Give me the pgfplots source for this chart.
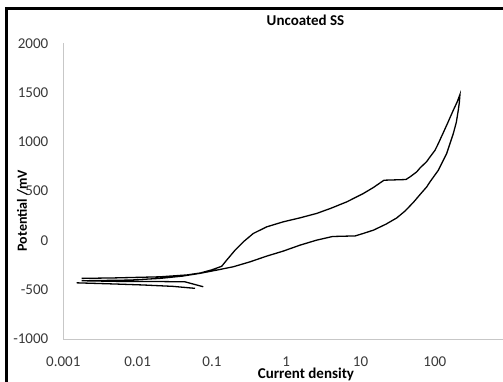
\documentclass[border=0pt]{standalone}
\usepackage{fontspec}
\setmainfont{Carlito}
\usepackage{pgfplots}
\pgfplotsset{compat=1.18}
\begin{document}
\fontsize{15pt}{18pt}\selectfont
\begin{tikzpicture}
\path[use as bounding box] (0,0) rectangle (503pt,-381pt);
\begin{scope}
\clip (0,0) rectangle (503pt,-381pt);
\begin{axis}[
  at={(63.3pt,-339pt)}, anchor=south west,
  scale only axis, width=445.8pt, height=295.7pt,
  xmode=log, log basis x=10,
  xmin=0.001, xmax=1000, ymin=-1000, ymax=2000,
  axis lines*=left,
  axis line style={draw=black!22, line width=0.9pt},
  tick style={draw=none},
  major tick length=0pt, minor tick length=0pt,
  xtick={0.001,0.01,0.1,1,10,100},
  xticklabels={0.001,0.01,0.1,1,10,100},
  ytick={-1000,-500,0,500,1000,1500,2000},
  yticklabels={-1000,-500,0,500,1000,1500,2000},
  ticklabel style={font=\fontsize{15pt}{18pt}\selectfont, text=black!78, inner sep=0pt},
  xticklabel style={anchor=center, yshift=-22.7pt},
  yticklabel style={anchor=east, xshift=-14.8pt},
]
% cathodic branch (lower line)
\addplot[black, line width=1.3pt] coordinates {
(0.0593,-486) (0.03,-466) (0.012,-452) (0.005,-442) (0.0025,-435) (0.00151,-430)
};
% forward anodic + reverse
\addplot[black, line width=1.3pt] coordinates {
(0.00177,-385) (0.005,-380) (0.02,-369) (0.046,-350) (0.07,-330) (0.1,-298)
(0.1355,-262) (0.158,-200) (0.205,-99) (0.265,-14) (0.361,71) (0.547,138)
(0.914,189) (1.53,229) (2.57,274) (3.92,324) (6.52,391) (10.9,476) (14.9,537)
(20.7,611) (40.9,618) (46.4,645) (57,695) (63.2,735) (77.8,800) (86.1,847)
(100.7,915) (111.5,983) (144.5,1169) (177.4,1321) (200,1405) (218,1480)
(214,1400) (207,1321) (195,1200) (177.4,1084) (144.5,882) (111.5,712) (86.1,594) (77.8,543)
(64,470) (52,390) (40,300) (30.7,228) (22,165) (15,105) (10.9,71) (8.5,46) (4.2,40) (2.57,3)
(1.53,-48) (0.914,-108) (0.547,-159) (0.326,-217) (0.194,-267) (0.116,-301)
(0.069,-334) (0.04,-362) (0.02,-385) (0.008,-402) (0.00177,-409)
(0.005,-415) (0.02,-417) (0.0435,-420) (0.0766,-470)
};
\end{axis}
\end{scope}
\draw[line width=3pt] (6.5pt,-400pt) -- (6.5pt,-8.5pt) -- (560pt,-8.5pt);
\node[anchor=base, inner sep=0pt, font=\bfseries] at (305.5pt,-25.5pt) {Uncoated SS};
\node[anchor=base, inner sep=0pt, font=\bfseries] at (306pt,-378.5pt) {Current density};
\node[anchor=base, inner sep=0pt, rotate=90, font=\bfseries\fontsize{14pt}{16pt}\selectfont] at (27pt,-210.7pt) {Potential /mV};
\end{tikzpicture}
\end{document}
